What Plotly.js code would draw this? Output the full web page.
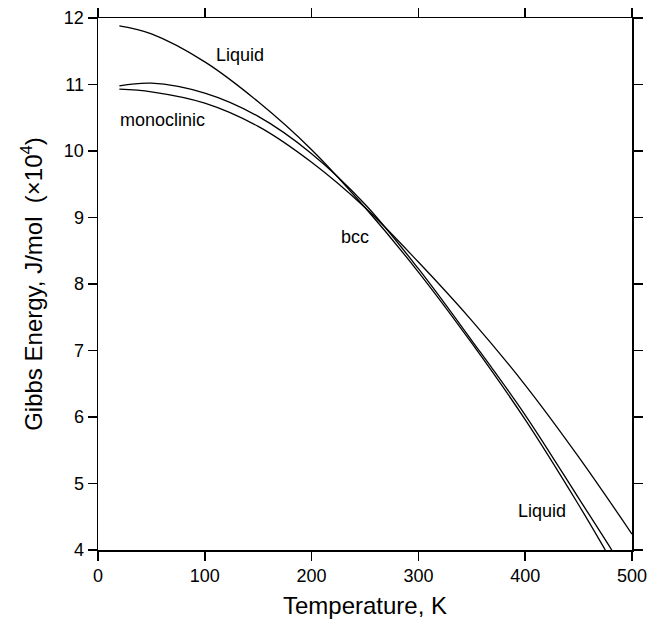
<!DOCTYPE html>
<html>
<head>
<meta charset="utf-8">
<script src="https://cdn.plot.ly/plotly-3.0.1.min.js"></script>
<style>html,body{margin:0;padding:0;background:#fff;}#chart{width:662px;height:627px;}</style>
</head>
<body>
<div id="chart"></div>
<script>
// Temperature (K) and Gibbs energy (x10^4 J/mol)
const tempLiquid = [20, 50, 100, 150, 200, 250, 300, 350, 400, 450, 475, 485];
const gLiquid    = [11.88, 11.76, 11.34, 10.74, 10.02, 9.15, 8.18, 7.11, 5.96, 4.68, 4.00, 3.72];

const tempBcc = [20, 50, 100, 150, 200, 250, 300, 350, 400, 450, 481, 490];
const gBcc    = [10.98, 11.02, 10.87, 10.52, 9.96, 9.20, 8.23, 7.15, 6.03, 4.78, 4.00, 3.76];

const tempMono = [20, 50, 100, 150, 200, 250, 300, 350, 400, 450, 500];
const gMono    = [10.93, 10.89, 10.72, 10.37, 9.83, 9.15, 8.33, 7.45, 6.48, 5.40, 4.24];

const xTicks = [0, 100, 200, 300, 400, 500];
const yTicks = [4, 5, 6, 7, 8, 9, 10, 11, 12];

const labels = [
  {text: 'Liquid', x: 133, y: 11.44},
  {text: 'monoclinic', x: 60, y: 10.46},
  {text: 'bcc', x: 240.6, y: 8.70},
  {text: 'Liquid', x: 415.7, y: 4.58}
];

const FONT = 'Liberation Sans, Arial, Helvetica, sans-serif';
const lineStyle = {color: '#000', width: 1.3, shape: 'spline', smoothing: 1};

const traces = [
  {x: tempLiquid, y: gLiquid, mode: 'lines', line: lineStyle, name: 'Liquid'},
  {x: tempBcc, y: gBcc, mode: 'lines', line: lineStyle, name: 'bcc'},
  {x: tempMono, y: gMono, mode: 'lines', line: lineStyle, name: 'monoclinic'}
];

const axisCommon = {
  showgrid: false, zeroline: false,
  showline: true, linecolor: '#000', linewidth: 1.5, mirror: 'ticks',
  ticks: 'outside', ticklen: 9, tickwidth: 1.5, tickcolor: '#000',
  tickfont: {family: FONT, size: 18, color: '#000'}
};

const layout = {
  width: 662, height: 627,
  margin: {l: 98, r: 30, t: 18, b: 77},
  paper_bgcolor: '#fff', plot_bgcolor: '#fff',
  showlegend: false,
  xaxis: Object.assign({}, axisCommon, {
    range: [0, 500], tickvals: xTicks, ticktext: xTicks.map(String),
    title: {text: 'Temperature, K', font: {family: FONT, size: 24, color: '#000'}, standoff: 12}
  }),
  yaxis: Object.assign({}, axisCommon, {
    range: [4, 12], tickvals: yTicks, ticktext: yTicks.map(String),
    title: {text: 'Gibbs Energy, J/mol  (×10<sup>4</sup>)', font: {family: FONT, size: 24, color: '#000'}, standoff: 14}
  }),
  annotations: labels.map(l => ({
    x: l.x, y: l.y, xref: 'x', yref: 'y', text: l.text, showarrow: false,
    font: {family: FONT, size: 18, color: '#000'}
  }))
};

Plotly.newPlot('chart', traces, layout, {displayModeBar: false, staticPlot: true});
</script>
</body>
</html>
